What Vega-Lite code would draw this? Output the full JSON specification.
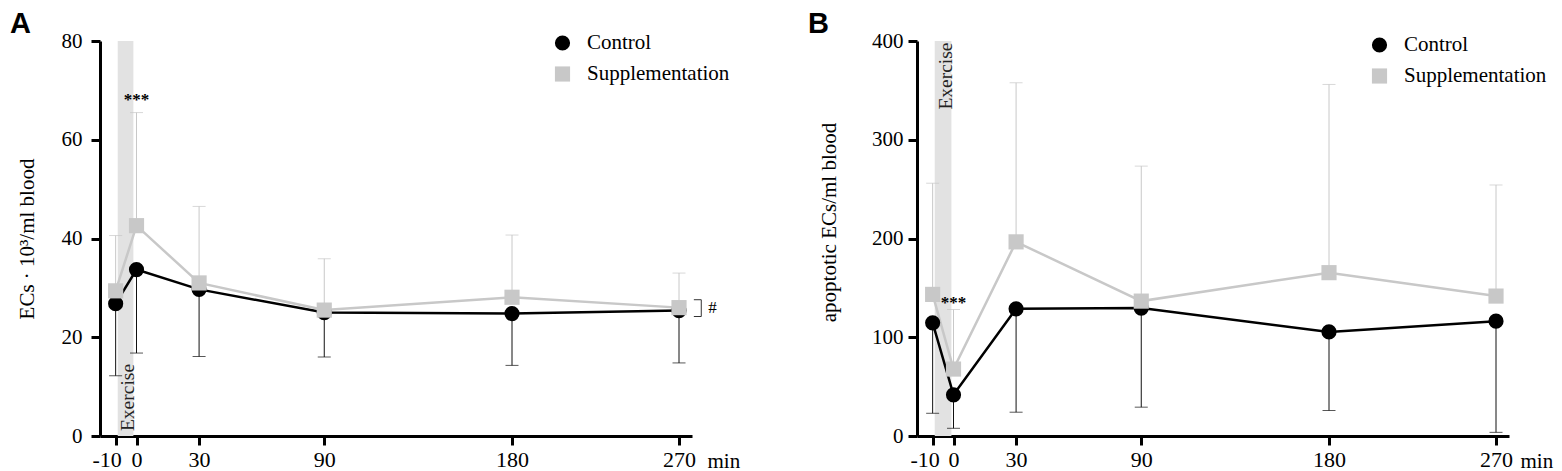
{
  "$schema": "https://vega.github.io/schema/vega-lite/v6.json",
  "padding": {"left": 10, "top": 10, "right": 5, "bottom": 2},
  "datasets": {
    "ecs": [
      {"t": -10, "grp": "Control", "mean": 26.8, "bound": 12.2},
      {"t": 0, "grp": "Control", "mean": 33.7, "bound": 16.8},
      {"t": 30, "grp": "Control", "mean": 29.7, "bound": 16.1},
      {"t": 90, "grp": "Control", "mean": 25.0, "bound": 16.0},
      {"t": 180, "grp": "Control", "mean": 24.8, "bound": 14.3},
      {"t": 270, "grp": "Control", "mean": 25.4, "bound": 14.8},
      {"t": -10, "grp": "Supplementation", "mean": 29.4, "bound": 40.6},
      {"t": 0, "grp": "Supplementation", "mean": 42.6, "bound": 65.5},
      {"t": 30, "grp": "Supplementation", "mean": 31.0, "bound": 46.5},
      {"t": 90, "grp": "Supplementation", "mean": 25.5, "bound": 35.9},
      {"t": 180, "grp": "Supplementation", "mean": 28.1, "bound": 40.7},
      {"t": 270, "grp": "Supplementation", "mean": 26.0, "bound": 33.0}
    ],
    "apop": [
      {"t": -10, "grp": "Control", "mean": 114.6, "bound": 23},
      {"t": 0, "grp": "Control", "mean": 41.7, "bound": 7.8},
      {"t": 30, "grp": "Control", "mean": 128.8, "bound": 24.1},
      {"t": 90, "grp": "Control", "mean": 129.5, "bound": 29.2},
      {"t": 180, "grp": "Control", "mean": 105.4, "bound": 25.8},
      {"t": 270, "grp": "Control", "mean": 116.3, "bound": 3.7},
      {"t": -10, "grp": "Supplementation", "mean": 143.4, "bound": 256},
      {"t": 0, "grp": "Supplementation", "mean": 67.8, "bound": 128.1},
      {"t": 30, "grp": "Supplementation", "mean": 196.6, "bound": 357.7},
      {"t": 90, "grp": "Supplementation", "mean": 136.6, "bound": 273.3},
      {"t": 180, "grp": "Supplementation", "mean": 165.4, "bound": 356},
      {"t": 270, "grp": "Supplementation", "mean": 141.7, "bound": 254.2}
    ],
    "bandA": [{"start": -9, "end": -1.5, "label": "Exercise", "ty": 1}],
    "bandB": [{"start": -9, "end": -1, "label": "Exercise", "ty": 398.5}],
    "starsA": [{"t": 0, "y": 68, "label": "***"}],
    "starsB": [{"t": 0, "y": 135, "label": "***"}],
    "hashA": [{"t": 288, "y": 25.9, "label": "#"}],
    "bracketA": [
      {"t1": 278, "t2": 282, "y1": 27.6, "y2": 24.2}
    ]
  },
  "hconcat": [
    {
      "title": {"text": "A", "dx": -90},
      "width": 592,
      "height": 395,
      "layer": [
        {
          "data": {"name": "bandA"},
          "mark": {"type": "rect", "color": "#e2e2e2"},
          "encoding": {
            "x": {"field": "start", "type": "quantitative"},
            "x2": {"field": "end"}
          }
        },
        {
          "data": {"name": "bandA"},
          "mark": {"type": "text", "angle": 270, "align": "left", "baseline": "middle", "font": "Liberation Serif", "fontSize": 19.5, "color": "#222"},
          "encoding": {
            "x": {"value": 28},
            "y": {"field": "ty", "type": "quantitative"},
            "text": {"field": "label"}
          }
        },
        {
          "data": {"name": "ecs"},
          "mark": {"type": "rule", "strokeWidth": 1},
          "encoding": {
            "x": {"field": "t", "type": "quantitative"},
            "y": {"field": "mean", "type": "quantitative"},
            "y2": {"field": "bound"},
            "color": {"condition": {"test": "datum.grp === 'Control'", "value": "#111"}, "value": "#c8c8c8"}
          }
        },
        {
          "data": {"name": "ecs"},
          "mark": {"type": "tick", "orient": "horizontal", "size": 13, "thickness": 1},
          "encoding": {
            "x": {"field": "t", "type": "quantitative"},
            "y": {"field": "bound", "type": "quantitative"},
            "color": {"condition": {"test": "datum.grp === 'Control'", "value": "#111"}, "value": "#c8c8c8"}
          }
        },
        {
          "data": {"name": "ecs"},
          "mark": {"type": "line", "strokeWidth": 2.5},
          "encoding": {
            "x": {"field": "t", "type": "quantitative"},
            "y": {"field": "mean", "type": "quantitative"},
            "detail": {"field": "grp"},
            "color": {"condition": {"test": "datum.grp === 'Control'", "value": "#000"}, "value": "#c8c8c8"}
          }
        },
        {
          "data": {"name": "ecs"},
          "mark": {"type": "point", "filled": true, "opacity": 1, "size": 230},
          "encoding": {
            "x": {
              "field": "t", "type": "quantitative",
              "scale": {"domain": [-17.5, 180, 277], "range": [0, 412, 592], "zero": false, "nice": false},
              "axis": {
                "values": [-10, 0, 30, 90, 180, 270],
                "labelExpr": "datum.value < 0 ? '-' + abs(datum.value) : '' + datum.value",
                "labelOffset": {"condition": {"test": "datum.value < 0", "value": -9}, "value": 0},
                "title": "min", "titleX": 607, "titleY": 31, "titleAlign": "left", "titleAnchor": "start", "titleBaseline": "alphabetic", "titleAngle": 0
              }
            },
            "y": {
              "field": "mean", "type": "quantitative",
              "scale": {"domain": [0, 80], "nice": false},
              "axis": {"values": [0, 20, 40, 60, 80], "title": "ECs · 10³/ml blood", "titlePadding": 24, "labelPadding": 9}
            },
            "color": {
              "field": "grp", "type": "nominal",
              "scale": {"domain": ["Control", "Supplementation"], "range": ["#000000", "#c8c8c8"]},
              "legend": {"title": null, "orient": "none", "legendX": 452, "legendY": -8.5}
            },
            "shape": {
              "field": "grp", "type": "nominal",
              "scale": {"domain": ["Control", "Supplementation"], "range": ["circle", "square"]},
              "legend": {"title": null, "orient": "none", "legendX": 452, "legendY": -8.5}
            }
          }
        },
        {
          "data": {"name": "starsA"},
          "mark": {"type": "text", "font": "Liberation Serif", "fontSize": 17, "fontWeight": "bold", "baseline": "middle"},
          "encoding": {
            "x": {"field": "t", "type": "quantitative"},
            "y": {"field": "y", "type": "quantitative"},
            "text": {"field": "label"}
          }
        },
        {
          "data": {"name": "hashA"},
          "mark": {"type": "text", "font": "Liberation Serif", "fontSize": 17, "baseline": "middle"},
          "encoding": {
            "x": {"field": "t", "type": "quantitative"},
            "y": {"field": "y", "type": "quantitative"},
            "text": {"field": "label"}
          }
        },
        {
          "data": {"name": "bracketA"},
          "mark": {"type": "rule", "strokeWidth": 1, "color": "#333"},
          "encoding": {
            "x": {"field": "t1", "type": "quantitative"},
            "x2": {"field": "t2"},
            "y": {"field": "y1", "type": "quantitative"}
          }
        },
        {
          "data": {"name": "bracketA"},
          "mark": {"type": "rule", "strokeWidth": 1, "color": "#333"},
          "encoding": {
            "x": {"field": "t1", "type": "quantitative"},
            "x2": {"field": "t2"},
            "y": {"field": "y2", "type": "quantitative"}
          }
        },
        {
          "data": {"name": "bracketA"},
          "mark": {"type": "rule", "strokeWidth": 1, "color": "#333"},
          "encoding": {
            "x": {"field": "t2", "type": "quantitative"},
            "y": {"field": "y1", "type": "quantitative"},
            "y2": {"field": "y2"}
          }
        }
      ]
    },
    {
      "title": {"text": "B", "dx": -109},
      "width": 592,
      "height": 395,
      "layer": [
        {
          "data": {"name": "bandB"},
          "mark": {"type": "rect", "color": "#e2e2e2"},
          "encoding": {
            "x": {"field": "start", "type": "quantitative"},
            "x2": {"field": "end"}
          }
        },
        {
          "data": {"name": "bandB"},
          "mark": {"type": "text", "angle": 270, "align": "right", "baseline": "middle", "font": "Liberation Serif", "fontSize": 19.5, "color": "#222"},
          "encoding": {
            "x": {"value": 28.5},
            "y": {"field": "ty", "type": "quantitative"},
            "text": {"field": "label"}
          }
        },
        {
          "data": {"name": "apop"},
          "mark": {"type": "rule", "strokeWidth": 1},
          "encoding": {
            "x": {"field": "t", "type": "quantitative"},
            "y": {"field": "mean", "type": "quantitative"},
            "y2": {"field": "bound"},
            "color": {"condition": {"test": "datum.grp === 'Control'", "value": "#111"}, "value": "#c8c8c8"}
          }
        },
        {
          "data": {"name": "apop"},
          "mark": {"type": "tick", "orient": "horizontal", "size": 13, "thickness": 1},
          "encoding": {
            "x": {"field": "t", "type": "quantitative"},
            "y": {"field": "bound", "type": "quantitative"},
            "color": {"condition": {"test": "datum.grp === 'Control'", "value": "#111"}, "value": "#c8c8c8"}
          }
        },
        {
          "data": {"name": "apop"},
          "mark": {"type": "line", "strokeWidth": 2.5},
          "encoding": {
            "x": {"field": "t", "type": "quantitative"},
            "y": {"field": "mean", "type": "quantitative"},
            "detail": {"field": "grp"},
            "color": {"condition": {"test": "datum.grp === 'Control'", "value": "#000"}, "value": "#c8c8c8"}
          }
        },
        {
          "data": {"name": "apop"},
          "mark": {"type": "point", "filled": true, "opacity": 1, "size": 230},
          "encoding": {
            "x": {
              "field": "t", "type": "quantitative",
              "scale": {"domain": [-17.5, 180, 277], "range": [0, 412, 592], "zero": false, "nice": false},
              "axis": {
                "values": [-10, 0, 30, 90, 180, 270],
                "labelExpr": "datum.value < 0 ? '-' + abs(datum.value) : '' + datum.value",
                "labelOffset": {"condition": {"test": "datum.value < 0", "value": -8}, "value": 0},
                "title": "min", "titleX": 603, "titleY": 31, "titleAlign": "left", "titleAnchor": "start", "titleBaseline": "alphabetic", "titleAngle": 0
              }
            },
            "y": {
              "field": "mean", "type": "quantitative",
              "scale": {"domain": [0, 400], "nice": false},
              "axis": {"values": [0, 100, 200, 300, 400], "title": "apoptotic ECs/ml blood", "titlePadding": 32, "labelPadding": 5, "titleY": 181}
            },
            "color": {
              "field": "grp", "type": "nominal",
              "scale": {"domain": ["Control", "Supplementation"], "range": ["#000000", "#c8c8c8"]},
              "legend": {"title": null, "orient": "none", "legendX": 452, "legendY": -6.5}
            },
            "shape": {
              "field": "grp", "type": "nominal",
              "scale": {"domain": ["Control", "Supplementation"], "range": ["circle", "square"]},
              "legend": {"title": null, "orient": "none", "legendX": 452, "legendY": -6.5}
            }
          }
        },
        {
          "data": {"name": "starsB"},
          "mark": {"type": "text", "font": "Liberation Serif", "fontSize": 17, "fontWeight": "bold", "baseline": "middle"},
          "encoding": {
            "x": {"field": "t", "type": "quantitative"},
            "y": {"field": "y", "type": "quantitative"},
            "text": {"field": "label"}
          }
        }
      ]
    }
  ],
  "spacing": 225,
  "bounds": "flush",
  "resolve": {
    "scale": {"color": "independent", "shape": "independent"},
    "legend": {"color": "independent", "shape": "independent"}
  },
  "config": {
    "view": {"stroke": null},
    "title": {"anchor": "start", "frame": "group", "font": "Liberation Sans", "fontSize": 29, "fontWeight": "bold", "baseline": "alphabetic", "offset": -9, "color": "#000"},
    "axis": {
      "grid": false,
      "domainColor": "#000",
      "domainWidth": 3,
      "tickColor": "#000",
      "tickWidth": 3,
      "tickSize": 9,
      "labelFont": "Liberation Serif",
      "labelFontSize": 21,
      "labelColor": "#000",
      "titleFont": "Liberation Serif",
      "titleFontSize": 21,
      "titleFontWeight": "normal",
      "titleColor": "#000"
    },
    "axisX": {"labelPadding": 4, "labelFontSize": 22},
    "legend": {
      "labelFont": "Liberation Serif",
      "labelFontSize": 21,
      "labelColor": "#000",
      "symbolSize": 230,
      "symbolStrokeWidth": 0,
      "labelOffset": 14,
      "rowPadding": 9,
      "padding": 0
    }
  }
}
